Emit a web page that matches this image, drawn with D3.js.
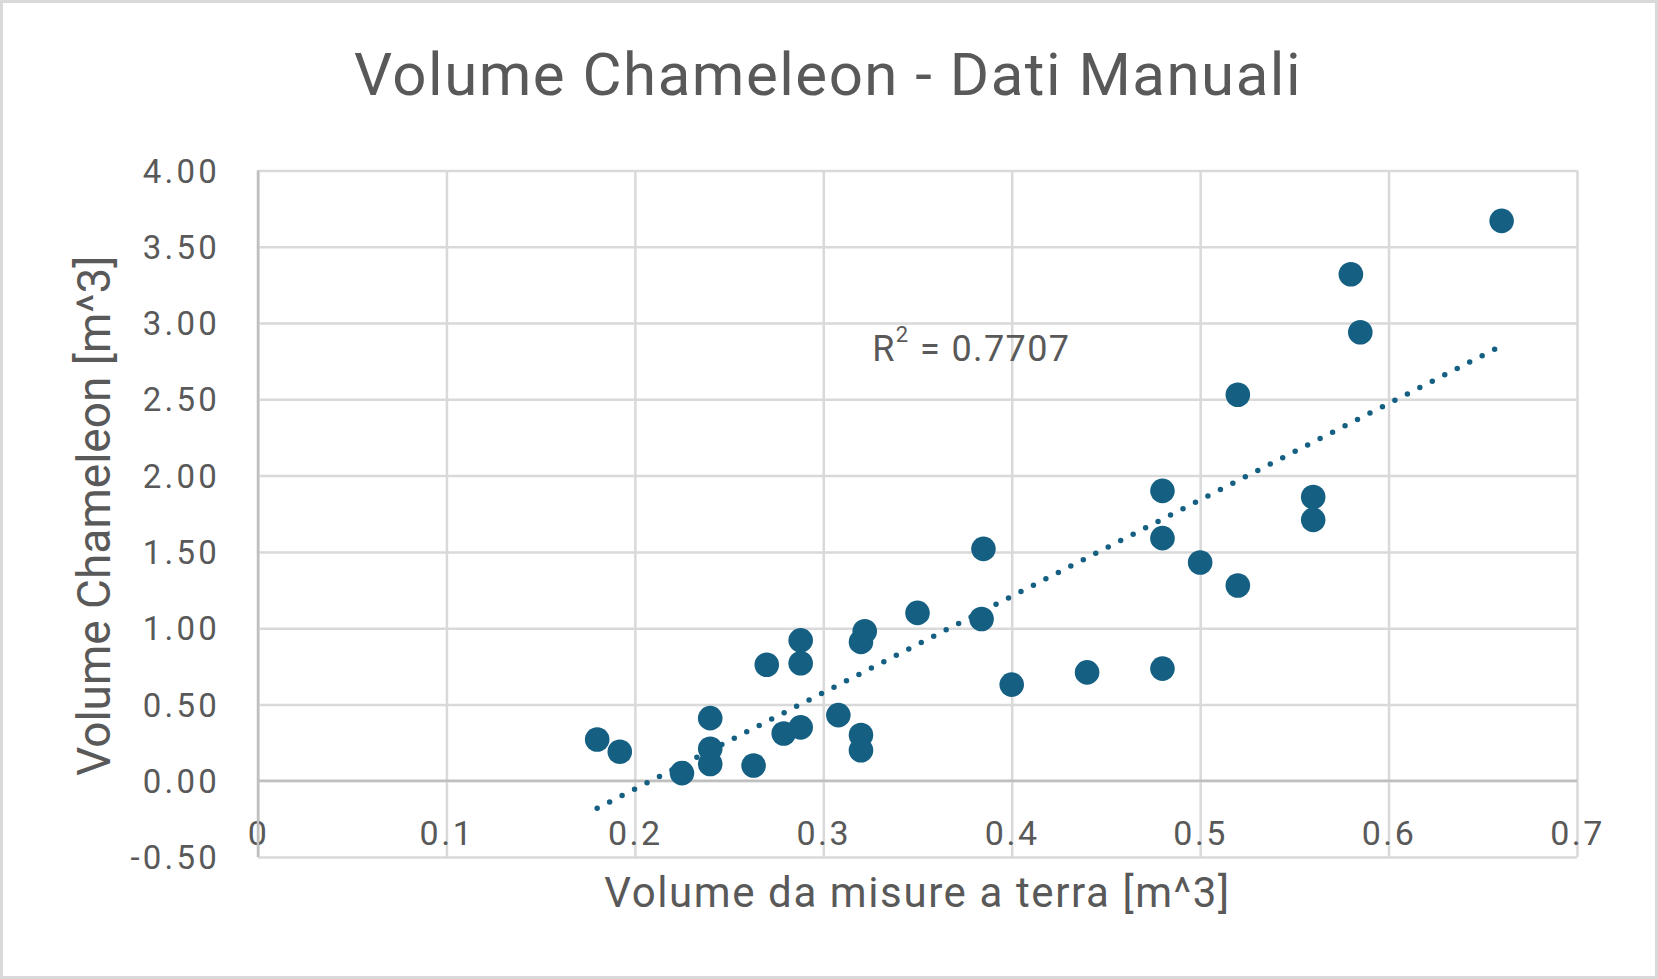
<!DOCTYPE html>
<html>
<head>
<meta charset="utf-8">
<script src="https://cdn.jsdelivr.net/npm/d3@7"></script>
<style>
  html, body { margin: 0; padding: 0; background: #fff; }
  svg { display: block; }
  text { font-family: Roboto, "Liberation Sans", sans-serif; fill: #595959; }
</style>
</head>
<body>
<script>
// volumi
const volTerra = [
    0.18, 0.192, 0.225, 0.24, 0.24, 0.24, 0.263, 0.27, 0.288, 0.288, 0.279,
    0.288, 0.308, 0.32, 0.32, 0.322, 0.32, 0.35, 0.384, 0.385, 0.40, 0.44,
    0.48, 0.48, 0.48, 0.50, 0.52, 0.52, 0.56, 0.56, 0.58, 0.585, 0.66
]
const volChameleon = [
    0.27, 0.19, 0.05, 0.41, 0.21, 0.11, 0.10, 0.76, 0.92, 0.77, 0.31,
    0.35, 0.43, 0.30, 0.20, 0.98, 0.91, 1.10, 1.06, 1.52, 0.63, 0.71,
    1.90, 1.59, 0.735, 1.43, 2.53, 1.28, 1.86, 1.71, 3.32, 2.94, 3.67
]

const xTicks = [0, 0.1, 0.2, 0.3, 0.4, 0.5, 0.6, 0.7]
const xTickLabels = ['0', '0.1', '0.2', '0.3', '0.4', '0.5', '0.6', '0.7']
const yTicks = [-0.5, 0, 0.5, 1, 1.5, 2, 2.5, 3, 3.5, 4]
const yTickLabels = ['-0.50', '0.00', '0.50', '1.00', '1.50', '2.00', '2.50', '3.00', '3.50', '4.00']

const rSquared = '0.7707'

const [width, height] = [1658, 979]
const plot = { left: 258, right: 1577, top: 170.5, bottom: 857 }
const color = '#156082'

const x = d3.scaleLinear().domain([0, 0.7]).range([plot.left, plot.right])
const y = d3.scaleLinear().domain([-0.5, 4]).range([plot.bottom, plot.top])

const svg = d3.select('body')
    .append('svg')
        .attr('width', width)
        .attr('height', height)

svg.append('rect')
    .attr('x', 1.5).attr('y', 1.5)
    .attr('width', width - 3).attr('height', height - 3)
    .attr('fill', '#fff')
    .attr('stroke', '#d9d9d9')
    .attr('stroke-width', 3)

// griglia + etichette asse x
const gx = svg.append('g')
    .attr('transform', `translate(0,${plot.bottom})`)
    .call(d3.axisBottom(x)
        .tickValues(xTicks)
        .tickSize(-(plot.bottom - plot.top))
        .tickFormat((d, i) => xTickLabels[i]))
gx.select('.domain').remove()
gx.selectAll('line').attr('stroke', '#d9d9d9').attr('stroke-width', 2.5)
gx.selectAll('text')
    .attr('y', -12)
    .attr('dy', 0)
    .style('font-size', '34px')
    .style('letter-spacing', '2.5px')

// griglia + etichette asse y
const gy = svg.append('g')
    .attr('transform', `translate(${plot.left},0)`)
    .call(d3.axisLeft(y)
        .tickValues(yTicks)
        .tickSize(-(plot.right - plot.left))
        .tickFormat((d, i) => yTickLabels[i]))
gy.select('.domain').remove()
gy.selectAll('line').attr('stroke', '#d9d9d9').attr('stroke-width', 2.5)
gy.selectAll('text')
    .attr('x', -38)
    .attr('dy', '0.35em')
    .style('font-size', '33px')
    .style('letter-spacing', '3.2px')

// assi (x = 0, y = 0) un po' più scuri
svg.append('line')
    .attr('x1', x(0)).attr('x2', x(0))
    .attr('y1', plot.top).attr('y2', plot.bottom)
    .attr('stroke', '#bfbfbf').attr('stroke-width', 2.5)
svg.append('line')
    .attr('x1', plot.left).attr('x2', plot.right)
    .attr('y1', y(0)).attr('y2', y(0))
    .attr('stroke', '#bfbfbf').attr('stroke-width', 2.5)

// punti
svg.append('g')
    .selectAll('circle')
    .data(volTerra)
    .enter()
    .append('circle')
        .attr('cx', d => x(d))
        .attr('cy', (d, i) => y(volChameleon[i]))
        .attr('r', 12.3)
        .attr('fill', color)

// linea di tendenza (minimi quadrati)
const mx = d3.mean(volTerra)
const my = d3.mean(volChameleon)
const slope = d3.sum(volTerra, (v, i) => (v - mx) * (volChameleon[i] - my)) /
              d3.sum(volTerra, v => (v - mx) ** 2)
const intercept = my - slope * mx
const [xMin, xMax] = d3.extent(volTerra)

svg.append('line')
    .attr('x1', x(xMin)).attr('y1', y(intercept + slope * xMin))
    .attr('x2', x(xMax)).attr('y2', y(intercept + slope * xMax))
    .attr('stroke', color)
    .attr('stroke-width', 5.5)
    .attr('stroke-linecap', 'round')
    .attr('stroke-dasharray', '0 14')

// R²
const r2 = svg.append('text')
    .attr('x', x(0.326))
    .attr('y', y(2.754))
    .style('font-size', '36px')
    .style('letter-spacing', '1.4px')
r2.append('tspan').text('R')
r2.append('tspan').text('2').style('font-size', '22px').attr('dy', -19)
r2.append('tspan').text(' = ' + rSquared).attr('dy', 19)

// titoli
svg.append('text')
    .attr('x', 828)
    .attr('y', 95)
    .attr('text-anchor', 'middle')
    .style('font-size', '60px')
    .style('letter-spacing', '1.5px')
    .text('Volume Chameleon - Dati Manuali')

svg.append('text')
    .attr('x', (plot.left + plot.right) / 2)
    .attr('y', 907)
    .attr('text-anchor', 'middle')
    .style('font-size', '42px')
    .style('letter-spacing', '1.6px')
    .text('Volume da misure a terra [m^3]')

svg.append('text')
    .attr('transform', `translate(110,${(plot.top + plot.bottom) / 2 + 2}) rotate(-90)`)
    .attr('text-anchor', 'middle')
    .style('font-size', '46px')
    .text('Volume Chameleon [m^3]')
</script>
</body>
</html>
